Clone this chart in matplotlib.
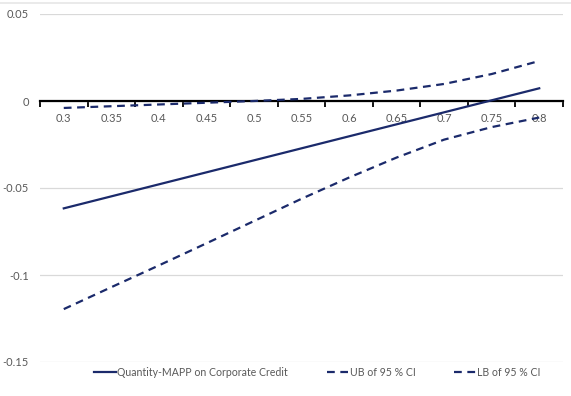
import matplotlib
matplotlib.use("Agg")
import matplotlib.pyplot as plt
from matplotlib.lines import Line2D
from matplotlib.ticker import FixedLocator

categories = ["0.3", "0.35", "0.4", "0.45", "0.5", "0.55", "0.6", "0.65", "0.7", "0.75", "0.8"]
effect = [-0.0617, -0.0548, -0.0479, -0.0410, -0.0341, -0.0272, -0.0203, -0.0134, -0.0065, 0.0004, 0.0073]
upper = [-0.0040, -0.0030, -0.0020, -0.0010, 0.0000, 0.0012, 0.0032, 0.0060, 0.0098, 0.0155, 0.0230]
lower = [-0.1196, -0.1070, -0.0945, -0.0818, -0.0690, -0.0562, -0.0440, -0.0325, -0.0222, -0.0150, -0.0095]
yticks = [-0.15, -0.1, -0.05, 0, 0.05]
ytick_labels = ["-0.15", "-0.1", "-0.05", "0", "0.05"]
series_names = ["Quantity-MAPP on Corporate Credit", "UB of 95 % CI", "LB of 95 % CI"]

plt.rcParams['font.family'] = ['Lato', 'DejaVu Sans']
navy = '#1b2a6b'
gray_text = '#595959'

fig = plt.figure(figsize=(5.71, 3.96), dpi=100)
ax = fig.add_axes([40/571, 34/396, 523/571, 348/396])

x = list(range(len(categories)))
ax.plot(x, effect, color=navy, lw=1.6, label=series_names[0])
ax.plot(x, upper, color=navy, lw=1.6, ls=(0, (3.5, 2.5)), label=series_names[1])
ax.plot(x, lower, color=navy, lw=1.6, ls=(0, (3.5, 2.5)), label=series_names[2])

ax.set_xlim(-0.5, len(categories) - 0.5)
ax.set_ylim(-0.15, 0.05)
ax.set_yticks(yticks)
ax.set_yticklabels(ytick_labels)
ax.yaxis.grid(True, color='#d9d9d9', lw=0.9)
ax.set_axisbelow(True)

for s in ['top', 'right', 'left']:
    ax.spines[s].set_visible(False)
ax.spines['bottom'].set_position(('data', 0))
ax.spines['bottom'].set_color('black')
ax.spines['bottom'].set_linewidth(1.6)
ax.spines['bottom'].set_zorder(1.5)

ax.set_xticks(x)
ax.set_xticklabels(categories)
ax.xaxis.set_minor_locator(FixedLocator([i - 0.5 for i in range(len(categories) + 1)]))
ax.tick_params(axis='x', which='major', length=0, pad=9, labelsize=8, labelcolor=gray_text)
ax.tick_params(axis='x', which='minor', length=4, width=1.3, color='black', direction='out')
ax.tick_params(axis='y', length=0, pad=8, labelsize=8, labelcolor=gray_text)

handles = [
    Line2D([], [], color=navy, lw=1.6),
    Line2D([], [], color=navy, lw=1.6, ls=(0, (3.5, 2.5))),
    Line2D([], [], color=navy, lw=1.6, ls=(0, (3.5, 2.5))),
]
leg = fig.legend(handles, series_names, loc='center', bbox_to_anchor=(0.556, 1 - 372/396),
                 ncol=3, frameon=False, fontsize=7.6, handlelength=2.0, handletextpad=0.15,
                 columnspacing=3.7)
for t in leg.get_texts():
    t.set_color(gray_text)

fig.add_artist(Line2D([0, 1], [1 - 3/396, 1 - 3/396], transform=fig.transFigure,
                      color='#e6e6e6', lw=1.2))

fig.savefig('out.png', dpi=100)
